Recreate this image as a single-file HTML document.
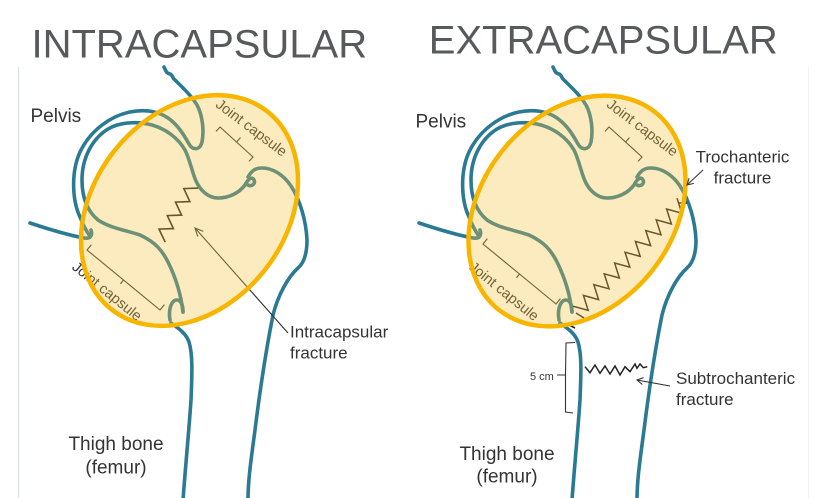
<!DOCTYPE html>
<html>
<head>
<meta charset="utf-8">
<style>
  html, body { margin:0; padding:0; background:#ffffff; }
  body { width:840px; height:498px; overflow:hidden; }
  svg { display:block; }
  text { font-family: "Liberation Sans", Arial, sans-serif; }
</style>
</head>
<body>
<svg width="840" height="498" viewBox="0 0 840 498" xmlns="http://www.w3.org/2000/svg">
  <defs>
    <g id="base" fill="none" stroke="#2b7a94" stroke-width="3.6" stroke-linecap="round" stroke-linejoin="round">
      <path d="M164,67 C166,71 166,73 170,74 C173,75 172,78 175,80 C182,87 191,95 197,105 C203,116 204,132 202,142 C200,150 193,151 189,144 C184,135 178,125 168,118 C158,111 144,109 130,112 C110,116 90,131 80,152 C71,172 72,200 80,217 C83,225 87,232 90,236"/>
      <path d="M30,223 C48,229 68,235 84,238 C90,239 93,236 91,230"/>
      <path d="M183,312 C181,295 176,278 168,262 C162,250 155,242 140,235 C125,230 110,228 98,220 C86,210 82,195 82,180 C82,158 92,139 108,129 C120,122 138,121 152,125 C166,129 178,138 185,150 C190,160 192,172 196,181 C200,190 208,198 218,198 C229,198 239,193 245,185 C248,179 252,176 254,180 C256,184 251,187 248,185"/>
      <path d="M248,177 C252,170 256,168 262,168 C272,168 283,174 291,186 C300,200 306,220 307,240 C307,252 305,262 298,268 C288,277 278,295 273,315 C267,345 260,390 255,430 C251,460 248,480 248,500"/>
      <path d="M170,320 C168,308 172,300 177,300 C181,300 183,305 183,312"/>
      <path d="M171,323 C178,328 186,333 189,342 C193,355 192,375 191,400 C189,430 186,460 183,500"/>
    </g>
    <g id="topcap">
      <path d="M216,131.4 L220,127 L253,157 L249,161.4 M236.5,142 L240.5,137.6" fill="none" stroke="#333" stroke-width="1.1"/>
    </g>
    <g id="lowcap">
      <path d="M91.4,244.6 L87,250 L160,310 L164.4,304.6 M123.5,280 L120.4,283.9" fill="none" stroke="#333" stroke-width="1.1"/>
    </g>
  </defs>

  <!-- panel edges -->
  <line x1="18.5" y1="67" x2="18.5" y2="498" stroke="#d6dce3" stroke-width="1"/>
  <line x1="808.5" y1="67" x2="808.5" y2="498" stroke="#f0f1f3" stroke-width="1"/>

  <!-- Titles -->
  <text x="31.5" y="57.5" font-size="40" fill="#58595b">INTRACAPSULAR</text>
  <text x="428.8" y="53.3" font-size="40" fill="#58595b">EXTRACAPSULAR</text>

  <!-- ================= LEFT DIAGRAM ================= -->
  <use href="#base"/>
  <use href="#topcap"/>
  <use href="#lowcap"/>
  <text x="248.5" y="131.6" transform="rotate(37 248.5 131.6)" text-anchor="middle" font-size="14.5" fill="#333">Joint capsule</text>
  <text x="104" y="295" transform="rotate(39 104 295)" text-anchor="middle" font-size="14.5" fill="#333">Joint capsule</text>

  <!-- intracapsular zigzag -->
  <polyline points="198.1,188.1 183.8,188.6 189.9,201.6 175.5,202.1 181.6,215.1 167.3,215.6 173.4,228.6 159.0,229.1 165.2,242.1" fill="none" stroke="#222" stroke-width="1.6" stroke-linejoin="miter"/>
  <!-- intracapsular arrow -->
  <path d="M288,333 L195,228 M197.8,236.6 L195,228 L203.3,231.4" fill="none" stroke="#333" stroke-width="1.1"/>

  <!-- Left ellipse -->
  <ellipse cx="189.5" cy="210.5" rx="126" ry="96" transform="rotate(-51.7 189.5 210.5)" fill="#F7C23A" fill-opacity="0.33" stroke="none"/>
  <ellipse cx="189.5" cy="210.5" rx="126" ry="96" transform="rotate(-51.7 189.5 210.5)" fill="none" stroke="#F7B500" stroke-width="4.5"/>

  <!-- Left labels -->
  <text x="30.5" y="122" font-size="19" fill="#333">Pelvis</text>
  <text x="290" y="337.3" font-size="17" fill="#333">Intracapsular</text>
  <text x="290" y="358.3" font-size="17" fill="#333">fracture</text>
  <text x="116" y="450" font-size="19" fill="#333" text-anchor="middle">Thigh bone</text>
  <text x="116" y="473.3" font-size="19" fill="#333" text-anchor="middle">(femur)</text>

  <!-- ================= RIGHT DIAGRAM ================= -->
  <use href="#base" transform="translate(389,0)"/>
  <use href="#topcap" transform="translate(389,0)"/>
  <use href="#lowcap" transform="translate(396,-6)"/>
  <g transform="translate(391,0)">
    <text x="248.5" y="131.6" transform="rotate(37 248.5 131.6)" text-anchor="middle" font-size="14.5" fill="#333">Joint capsule</text>
  </g>
  <g transform="translate(397,0)">
    <text x="104" y="295" transform="rotate(39 104 295)" text-anchor="middle" font-size="14.5" fill="#333">Joint capsule</text>
  </g>

  <!-- trochanteric zigzag -->
  <polyline points="677.0,198.2 681.8,213.2 666.6,209.0 671.4,224.0 656.2,219.8 661.0,234.8 645.8,230.6 650.6,245.6 635.4,241.4 640.2,256.4 625.0,252.2 629.8,267.2 614.6,263.0 619.4,278.0 604.2,273.8 609.0,288.8 593.8,284.6 598.6,299.6 583.4,295.4 588.2,310.4 573.0,306.2" fill="none" stroke="#222" stroke-width="1.5" stroke-linejoin="miter"/>
  <path d="M678,203 L687,203 M681,211 L682,216 M576,313 L584,318 M569,325 L575,328" fill="none" stroke="#222" stroke-width="1.6"/>

  <!-- Right ellipse -->
  <ellipse cx="577" cy="211" rx="126" ry="96" transform="rotate(-51.7 577 211)" fill="#F7C23A" fill-opacity="0.33" stroke="none"/>
  <ellipse cx="577" cy="211" rx="126" ry="96" transform="rotate(-51.7 577 211)" fill="none" stroke="#F7B500" stroke-width="4.5"/>

  <!-- subtrochanteric zigzag -->
  <polyline points="585,366.7 590,372.7 595,365 600,373.3 605,366 610,374 615,366 620,375 625,366.7 630,371.7 635,364 637,368.3 640,364 643.3,367.7 647.3,366.7" fill="none" stroke="#222" stroke-width="1.5"/>

  <!-- 5 cm bracket -->
  <path d="M575,342.5 L566,343 L565.5,375 L565.5,412 L573,413 M557,375 L565.5,375" fill="none" stroke="#333" stroke-width="1.1"/>
  <text x="530" y="380" font-size="11" fill="#333">5 cm</text>

  <!-- arrows -->
  <path d="M703,170 L687,185 M693.8,183.4 L687,185 L689,178.3" fill="none" stroke="#333" stroke-width="1.1"/>
  <path d="M670,386 L637,380 M642.3,384.5 L637,380 L643.6,377.6" fill="none" stroke="#333" stroke-width="1.1"/>

  <!-- Right labels -->
  <text x="415.5" y="127.7" font-size="19" fill="#333">Pelvis</text>
  <text x="742.5" y="162.3" font-size="17" fill="#333" text-anchor="middle">Trochanteric</text>
  <text x="742.5" y="183.3" font-size="17" fill="#333" text-anchor="middle">fracture</text>
  <text x="676" y="384" font-size="17" fill="#333">Subtrochanteric</text>
  <text x="676" y="405" font-size="17" fill="#333">fracture</text>
  <text x="507" y="460" font-size="19" fill="#333" text-anchor="middle">Thigh bone</text>
  <text x="507" y="482.7" font-size="19" fill="#333" text-anchor="middle">(femur)</text>
</svg>
</body>
</html>
